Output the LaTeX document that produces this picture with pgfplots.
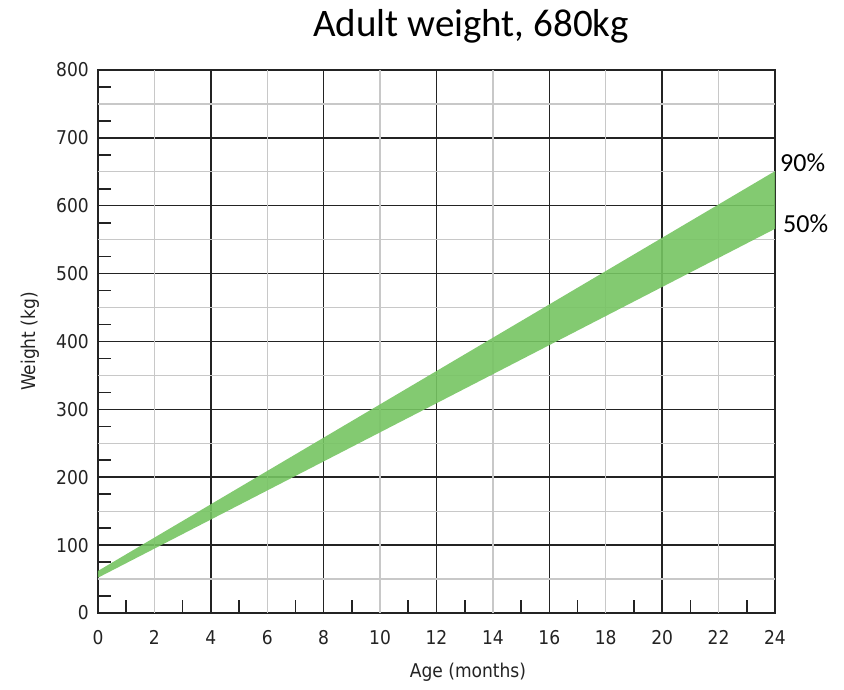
\documentclass[border=0pt]{standalone}
\usepackage{fontspec}
\setmainfont{Carlito}
\newfontfamily\din{DejaVu Sans Condensed}
\usepackage{pgfplots}
\pgfplotsset{compat=1.18}
\definecolor{band}{RGB}{118,196,98}
\definecolor{axisc}{RGB}{35,35,35}
\definecolor{gridg}{RGB}{200,200,200}
\begin{document}
\begin{tikzpicture}
\path[use as bounding box] (-98pt,-77pt) rectangle (746pt,613pt);
\begin{axis}[
  at={(0pt,0pt)}, anchor=south west,
  scale only axis, width=677pt, height=543pt,
  xmin=0, xmax=24, ymin=0, ymax=800,
  axis line style={axisc, line width=1.8pt},
  xtick={0,4,...,24}, ytick={0,100,...,800},
  extra x ticks={2,6,...,22},
  extra y ticks={50,150,...,750},
  extra y tick labels={},
  extra x tick style={grid=major, major grid style={gridg, line width=1.2pt}},
  extra y tick style={grid=major, major grid style={gridg, line width=1.2pt}},
  grid=major,
  major grid style={axisc, line width=1.5pt},
  minor xtick={1,3,...,23}, minor ytick={25,75,...,775},
  major tick length=0pt, minor tick length=13pt,
  tick align=inside, xtick pos=bottom, ytick pos=left,
  minor tick style={axisc, line width=1.6pt},
  ticklabel style={font=\din\fontsize{19}{19}\selectfont, text=axisc},
  /pgf/number format/assume math mode=true,
  yticklabel style={inner sep=0pt, xshift=-9pt},
  xticklabel style={inner sep=0pt, yshift=-17pt},
]
\addplot[fill=band, draw=none, fill opacity=0.9] coordinates {(0,52) (24,566) (24,651) (0,62)};
\end{axis}
\node[rotate=90, font=\din\fontsize{19}{19}\selectfont, text=axisc] at (-68pt,271.5pt) {Weight (kg)};
\node[font=\din\fontsize{19}{19}\selectfont, text=axisc] at (370pt,-59pt) {Age (months)};
\node[anchor=base, font=\fontsize{39}{39}\selectfont, inner sep=0pt] at (373pt,576pt) {Adult weight, 680kg};
\node[anchor=base west, font=\fontsize{26}{26}\selectfont, inner sep=0pt] at (682pt,441pt) {90\%};
\node[anchor=base west, font=\fontsize{26}{26}\selectfont, inner sep=0pt] at (685pt,380pt) {50\%};
\end{tikzpicture}
\end{document}
